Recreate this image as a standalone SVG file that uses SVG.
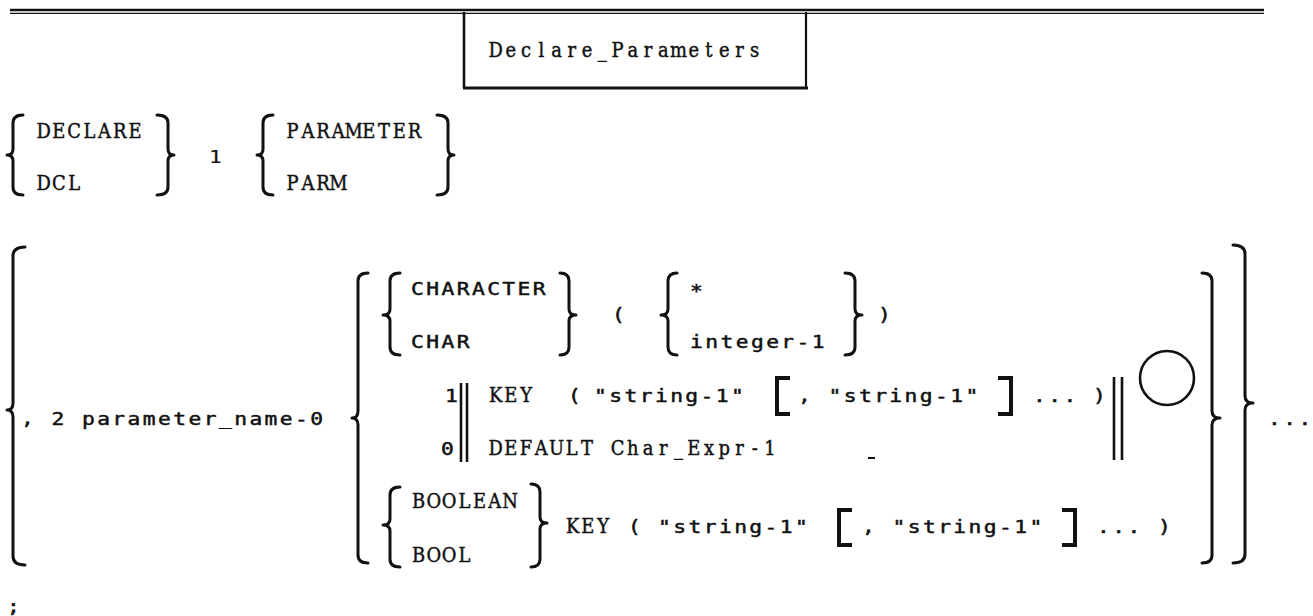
<svg xmlns="http://www.w3.org/2000/svg" width="1313" height="616" viewBox="0 0 1313 616">
  <style>
    .bg { fill: #ffffff; }
    /* body text: wide gothic typewriter face, drawn with a horizontal stretch (10 pitch) */
    .sans { font-family: "DejaVu Sans Mono", "Liberation Mono", monospace; font-size: 18.5px; letter-spacing: 2.11px; fill: #111; stroke: #111; stroke-width: 0.5px; }
    /* keyword text: slab-serif typewriter face, one glyph per 10-pitch cell (x lists), slightly condensed */
    .serif { font-family: "DejaVu Serif", "Liberation Serif", serif; font-size: 19.5px; text-anchor: middle; fill: #111; stroke: #111; stroke-width: 0.45px; }
    .brace { fill: none; stroke: #111; stroke-width: 3px; stroke-linecap: round; stroke-linejoin: round; }
    .bracket { fill: none; stroke: #111; stroke-width: 4px; stroke-linejoin: miter; }
    .bar { stroke: #111; stroke-width: 2.6px; }
    .rule { stroke: #111; }
  </style>

  <rect class="bg" x="0" y="0" width="1313" height="616"/>

  <!-- page header rule -->
  <g id="header-rule">
    <line class="rule" x1="10" y1="10" x2="1264" y2="10" stroke-width="2.6"/>
    <line class="rule" x1="10" y1="13.3" x2="1264" y2="13.3" stroke-width="1.2"/>
  </g>

  <!-- title box -->
  <g id="title">
    <line class="rule" x1="464" y1="12" x2="464" y2="88" stroke-width="2.6"/>
    <line class="rule" x1="806" y1="12" x2="806" y2="88" stroke-width="2.2"/>
    <line class="rule" x1="463" y1="88" x2="808" y2="88" stroke-width="3"/>
    <text class="serif" transform="translate(488 57) scale(0.92 1)" x="8.28 24.85 41.41 57.98 74.54 91.11 107.67 124.24 140.8 157.37 173.93 190.5 207.06 223.63 240.19 256.76 273.32 289.89 306.45">Declare_Parameters</text>
  </g>

  <!-- DECLARE / DCL  1  PARAMETER / PARM -->
  <g id="keyword-line">
    <path class="brace" d="M23,115 Q13,115 13,123 L13,149 Q13,155 7,155 Q13,155 13,161 L13,187 Q13,195 23,195"/>
    <text class="serif" transform="translate(36 138) scale(0.92 1)" x="8.28 24.85 41.41 57.98 74.54 91.11 107.67">DECLARE</text>
    <text class="serif" transform="translate(36 190) scale(0.92 1)" x="8.28 24.85 41.41">DCL</text>
    <path class="brace" d="M157,115 Q168,115 168,123 L168,149 Q168,155 174,155 Q168,155 168,161 L168,187 Q168,195 157,195"/>
    <text class="sans" transform="translate(209 163) scale(1.15 1)" style="stroke-width:0.2px">1</text>
    <path class="brace" d="M273,115 Q263,115 263,123 L263,149 Q263,155 257,155 Q263,155 263,161 L263,187 Q263,195 273,195"/>
    <text class="serif" transform="translate(285 138) scale(0.92 1)" x="8.28 24.85 41.41 57.98 74.54 91.11 107.67 124.24 140.8">PARAMETER</text>
    <text class="serif" transform="translate(285 190) scale(0.92 1)" x="8.28 24.85 41.41 57.98">PARM</text>
    <path class="brace" d="M437,115 Q448,115 448,123 L448,149 Q448,155 454,155 Q448,155 448,161 L448,187 Q448,195 437,195"/>
  </g>

  <!-- repeated parameter entry -->
  <g id="parameter-entry">
    <path class="brace" d="M25,247 Q13,247 13,256 L13,403 Q13,410 7,410 Q13,410 13,417 L13,556 Q13,565 25,565"/>
    <text class="sans" transform="translate(21 425) scale(1.15 1)">, 2 parameter_name-0</text>
    <path class="brace" d="M368,273 Q358,273 358,281 L358,411 Q358,418 352,418 Q358,418 358,425 L358,555 Q358,563 368,563"/>
  </g>

  <!-- CHARACTER alternative -->
  <g id="character-type">
    <path class="brace" d="M400,273 Q390,273 390,281 L390,309 Q390,315 383,315 Q390,315 390,321 L390,347 Q390,355 400,355"/>
    <text class="sans" transform="translate(411 295) scale(1.15 1)">CHARACTER</text>
    <text class="sans" transform="translate(411 348) scale(1.15 1)">CHAR</text>
    <path class="brace" d="M560,273 Q569,273 569,281 L569,309 Q569,315 576,315 Q569,315 569,321 L569,347 Q569,355 560,355"/>
    <text class="sans" transform="translate(612 321) scale(1.15 1)">(</text>
    <path class="brace" d="M677,273 Q668,273 668,281 L668,309 Q668,315 661,315 Q668,315 668,321 L668,347 Q668,355 677,355"/>
    <text class="sans" transform="translate(690 297) scale(1.15 1)">*</text>
    <text class="sans" transform="translate(690 348) scale(1.15 1)">integer-1</text>
    <path class="brace" d="M845,273 Q855,273 855,281 L855,309 Q855,315 862,315 Q855,315 855,321 L855,347 Q855,355 845,355"/>
    <text class="sans" transform="translate(878 321) scale(1.15 1)">)</text>
  </g>

  <!-- KEY / DEFAULT choice for CHARACTER -->
  <g id="character-options">
    <text class="sans" transform="translate(445 402) scale(1.15 1)">1</text>
    <text class="sans" transform="translate(441 455) scale(1.15 1)">0</text>
    <line class="bar" x1="461" y1="383" x2="461" y2="462"/>
    <line class="bar" x1="467" y1="383" x2="467" y2="462"/>
    <text class="serif" transform="translate(488 402) scale(0.92 1)" x="8.28 24.85 41.41">KEY</text>
    <text class="sans" transform="translate(568 402) scale(1.15 1)">(</text>
    <text class="sans" transform="translate(594 402) scale(1.15 1)">"string-1"</text>
    <path class="bracket" d="M790,378 L777,378 L777,414 L790,414"/>
    <text class="sans" transform="translate(798 402) scale(1.15 1)">, "string-1"</text>
    <path class="bracket" d="M998,378 L1011,378 L1011,414 L998,414"/>
    <text class="sans" transform="translate(1033 402) scale(1.15 1)">...</text>
    <text class="sans" transform="translate(1093 402) scale(1.15 1)">)</text>
    <line class="bar" x1="1114" y1="377" x2="1114" y2="460"/>
    <line class="bar" x1="1122" y1="377" x2="1122" y2="460"/>
    <circle cx="1167" cy="378" r="27" fill="none" stroke="#111" stroke-width="2.6"/>
    <text class="serif" transform="translate(488 455) scale(0.92 1)" x="8.28 24.85 41.41 57.98 74.54 91.11 107.67 124.24 140.8 157.37 173.93 190.5 207.06 223.63 240.19 256.76 273.32 289.89 306.45">DEFAULT Char_Expr-1</text>
    <line class="rule" x1="868" y1="458" x2="875" y2="458" stroke-width="2"/>
  </g>

  <!-- BOOLEAN alternative -->
  <g id="boolean-type">
    <path class="brace" d="M400,487 Q390,487 390,495 L390,519 Q390,525 383,525 Q390,525 390,531 L390,559 Q390,567 400,567"/>
    <text class="serif" transform="translate(411 508) scale(0.92 1)" x="8.28 24.85 41.41 57.98 74.54 91.11 107.67">BOOLEAN</text>
    <text class="serif" transform="translate(411 562) scale(0.92 1)" x="8.28 24.85 41.41 57.98">BOOL</text>
    <path class="brace" d="M531,484 Q540,484 540,492 L540,517 Q540,523 547,523 Q540,523 540,529 L540,559 Q540,567 531,567"/>
    <text class="serif" transform="translate(565 533) scale(0.92 1)" x="8.28 24.85 41.41">KEY</text>
    <text class="sans" transform="translate(628 533) scale(1.15 1)">(</text>
    <text class="sans" transform="translate(658 533) scale(1.15 1)">"string-1"</text>
    <path class="bracket" d="M852,510 L839,510 L839,545 L852,545"/>
    <text class="sans" transform="translate(862 533) scale(1.15 1)">, "string-1"</text>
    <path class="bracket" d="M1062,510 L1075,510 L1075,545 L1062,545"/>
    <text class="sans" transform="translate(1097 533) scale(1.15 1)">...</text>
    <text class="sans" transform="translate(1158 533) scale(1.15 1)">)</text>
  </g>

  <!-- closing braces and repetition -->
  <g id="closing">
    <path class="brace" d="M1202,273 Q1212,273 1212,281 L1212,411 Q1212,418 1220,418 Q1212,418 1212,425 L1212,555 Q1212,563 1202,563"/>
    <path class="brace" d="M1233,245 Q1245,245 1245,254 L1245,396 Q1245,403 1253,403 Q1245,403 1245,410 L1245,554 Q1245,563 1233,563"/>
    <text class="sans" transform="translate(1268 425) scale(1.15 1)">...</text>
  </g>

  <g id="terminator">
    <text class="sans" transform="translate(7 613) scale(1.15 1)">;</text>
  </g>
</svg>
